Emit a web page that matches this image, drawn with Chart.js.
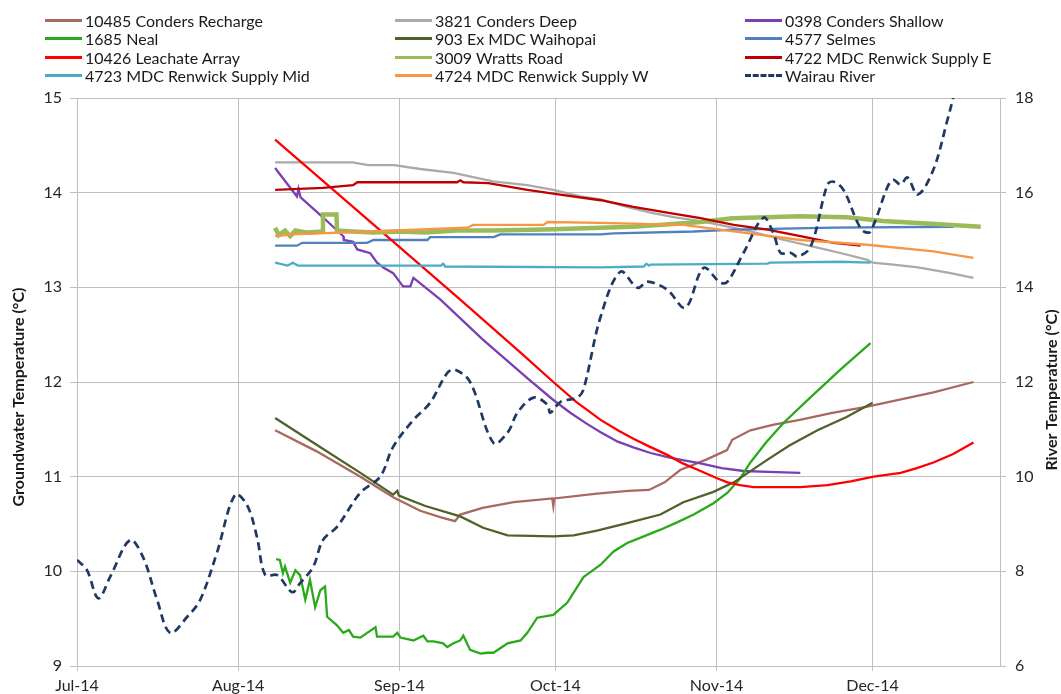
<!DOCTYPE html>
<html>
<head>
<meta charset="utf-8">
<script src="https://cdn.jsdelivr.net/npm/chart.js@4.4.1/dist/chart.umd.min.js"></script>
<style>
html,body{margin:0;padding:0;background:#fff;}
#wrap{position:relative;width:1061px;height:694px;overflow:hidden;}
#chart{position:absolute;left:0;top:0;}
#legend{position:absolute;left:0;top:0;width:1061px;height:92px;font-family:Lato,"Liberation Sans",sans-serif;font-size:16px;color:#1a1a1a;}
.item{position:absolute;height:18px;display:flex;align-items:center;white-space:nowrap;}
.sw{width:37px;height:0;margin-right:3px;}
</style>
</head>
<body>
<div id="wrap">
<canvas id="chart" width="1061" height="694"></canvas>
<div id="legend"></div>
</div>
<script>
// ---- axis ticks / labels ----
const monthTickDays = [0, 31, 62, 92, 123, 153];           // days since 1 Jul 2014
const monthTickLabels = ['Jul-14', 'Aug-14', 'Sep-14', 'Oct-14', 'Nov-14', 'Dec-14'];
const leftTicks = [9, 10, 11, 12, 13, 14, 15];
const rightTicks = [6, 8, 10, 12, 14, 16, 18];
const leftTitle = 'Groundwater Temperature (°C)';
const rightTitle = 'River Temperature (°C)';

// ---- series names & colours (legend order) ----
const seriesNames = [
  '10485 Conders Recharge', '3821 Conders Deep', '0398 Conders Shallow',
  '1685 Neal', '903 Ex MDC Waihopai', '4577 Selmes',
  '10426 Leachate Array', '3009 Wratts Road', '4722 MDC Renwick Supply E',
  '4723 MDC Renwick Supply Mid', '4724 MDC Renwick Supply W', 'Wairau River'
];
const seriesColors = [
  '#A8695F', '#AAAAAA', '#7A3FB3',
  '#2AAA1A', '#4F6228', '#4F81BD',
  '#FF0000', '#9BBB59', '#C00000',
  '#4BACC6', '#F79646', '#1F3864'
];

// ---- series data: [day since 1 Jul 2014, temperature] ----
const condersRecharge = [[38.1,11.49],[46,11.27],[54.5,11.0],[60.9,10.78],[66,10.64],[70,10.57],[72.7,10.53],[73.7,10.6],[78,10.67],[84,10.73],[91.4,10.77],[91.6,10.69],[91.8,10.77],[100,10.82],[106,10.85],[110,10.86],[113,10.94],[116,11.07],[121,11.18],[125,11.28],[126,11.39],[129.5,11.49],[134,11.55],[139,11.60],[145,11.67],[152,11.74],[158,11.81],[164.7,11.89],[172.4,12.0]];
const condersDeep = [[38.1,14.32],[53,14.32],[56,14.29],[61,14.29],[66,14.25],[72.4,14.21],[80,14.12],[86.6,14.08],[91.6,14.03],[96.8,13.96],[100.7,13.93],[105,13.86],[110.3,13.79],[115,13.74],[120,13.70],[124.5,13.65],[129.5,13.59],[136,13.50],[142.4,13.42],[147,13.36],[152,13.29],[153,13.26],[157,13.24],[161.7,13.21],[165,13.18],[168,13.15],[172.4,13.10]];
const condersShallow = [[38.1,14.26],[42.3,13.96],[42.6,14.04],[43,13.95],[47.3,13.74],[51.2,13.54],[51.3,13.50],[53.1,13.48],[53.9,13.40],[56.4,13.36],[57.7,13.26],[58.9,13.21],[60.8,13.15],[62.7,13.01],[64.1,13.01],[64.7,13.10],[69.9,12.87],[78,12.45],[86.6,12.04],[91.6,11.81],[95,11.67],[98,11.56],[100.7,11.47],[104,11.37],[107,11.31],[110.3,11.25],[114,11.20],[117,11.17],[119.9,11.14],[124,11.09],[128.2,11.06],[133,11.05],[139.1,11.04]];
const neal = [[38.3,10.13],[39.0,10.12],[39.6,9.98],[40.0,10.05],[41.0,9.88],[42.0,10.01],[42.9,9.96],[43.9,9.70],[44.8,9.91],[45.8,9.62],[46.8,9.80],[47.7,9.84],[48.1,9.52],[50.0,9.43],[51.2,9.35],[52.3,9.38],[53.1,9.31],[54.5,9.30],[55.8,9.35],[57.4,9.41],[57.7,9.31],[60.8,9.31],[61.6,9.35],[62.2,9.30],[64.7,9.27],[66.6,9.32],[67.4,9.26],[68.6,9.26],[70.4,9.24],[71.2,9.20],[72.4,9.24],[73.7,9.27],[74.3,9.32],[75.6,9.17],[77.6,9.13],[78.9,9.14],[80.1,9.14],[82.8,9.24],[85.3,9.27],[86.6,9.35],[88.5,9.51],[91.6,9.54],[94.3,9.67],[97.4,9.94],[100.7,10.07],[103.2,10.21],[105.8,10.30],[109,10.37],[112.2,10.44],[115.5,10.52],[118.6,10.60],[122.4,10.72],[125.1,10.83],[127.5,10.98],[129.5,11.15],[132.5,11.36],[135.9,11.57],[141.1,11.84],[146.8,12.13],[152.6,12.41]];
const exWaihopai = [[38.1,11.62],[46,11.34],[54.5,11.04],[60.8,10.81],[61.6,10.85],[61.9,10.80],[67,10.69],[73.7,10.58],[78.1,10.46],[82.8,10.38],[91.6,10.37],[95.5,10.38],[100,10.43],[105.8,10.51],[112.2,10.60],[116.6,10.73],[122.4,10.84],[126.3,10.94],[132.8,11.18],[137,11.33],[142.4,11.49],[148,11.63],[153.0,11.78]];
const selmes = [[38.1,13.44],[42.3,13.44],[43.3,13.47],[55.8,13.47],[57.0,13.50],[67.4,13.50],[67.9,13.53],[80.1,13.53],[81.4,13.56],[100.7,13.56],[103.2,13.57],[118.6,13.59],[126.3,13.61],[145.5,13.63],[168.6,13.64]];
const leachate = [[38.1,14.56],[57.7,13.63],[73.7,12.87],[85.3,12.31],[91.6,12.0],[96,11.79],[100.7,11.60],[104,11.49],[107.0,11.40],[110,11.32],[113.5,11.23],[116.5,11.14],[119.9,11.06],[123.2,10.98],[125.1,10.94],[127.5,10.91],[130.1,10.89],[139.1,10.89],[144.3,10.91],[148.8,10.95],[153.2,11.0],[158.4,11.04],[161.5,11.09],[164.7,11.15],[168.5,11.24],[172.4,11.36]];
const wrattsRoad = [[38.1,13.63],[38.8,13.55],[40,13.60],[41,13.54],[42,13.60],[44,13.58],[47.2,13.59],[47.3,13.77],[49.9,13.77],[50.0,13.60],[53,13.59],[57,13.58],[62,13.59],[67,13.58],[73,13.60],[80,13.60],[90,13.61],[100.7,13.63],[107,13.64],[120,13.69],[126,13.73],[139,13.75],[148,13.74],[155,13.70],[165,13.67],[173.8,13.64]];
const renwickE = [[38.1,14.03],[47.3,14.05],[53.1,14.08],[53.9,14.11],[73.1,14.11],[73.7,14.13],[74.3,14.11],[79.1,14.10],[86.6,14.03],[92.9,13.98],[100.7,13.92],[107.0,13.85],[113.5,13.79],[119.9,13.73],[126.3,13.66],[132.8,13.61],[139.1,13.54],[145.5,13.47],[150.7,13.44]];
const renwickMid = [[38.1,13.26],[40.5,13.23],[41.5,13.26],[42.5,13.23],[70,13.23],[70.4,13.25],[70.8,13.22],[100.7,13.21],[109,13.22],[109.5,13.25],[110,13.23],[110.3,13.24],[132.8,13.25],[133.3,13.26],[146.8,13.27],[152.6,13.26]];
const renwickW = [[38.1,13.54],[41.5,13.56],[56.2,13.59],[75.0,13.63],[76.2,13.66],[89.7,13.66],[90.5,13.69],[100.7,13.68],[116.6,13.66],[126.3,13.59],[139.1,13.50],[152.0,13.45],[164.7,13.38],[172.4,13.31]];
const wairauRiver = [[0,8.24],[1.9,8.03],[4.1,7.43],[6.4,7.89],[10.2,8.66],[12.7,8.30],[15.4,7.40],[17.9,6.70],[21.2,7.04],[23.7,7.40],[26.9,8.39],[30.4,9.62],[32.7,9.40],[34.6,8.73],[36.2,7.92],[38.5,7.92],[41.4,7.56],[42.9,7.75],[45.4,8.09],[47.3,8.66],[50.0,8.94],[54.5,9.66],[58.3,10.0],[60.8,10.63],[64.7,11.20],[67.9,11.56],[71.2,12.19],[72.7,12.26],[75.6,12.0],[80.1,10.71],[82.8,10.93],[84.7,11.35],[87.8,11.67],[90.5,11.52],[91.0,11.35],[93.0,11.58],[96.2,11.67],[97.4,11.84],[100.7,13.38],[104.5,14.33],[107.8,13.99],[109.7,14.12],[113.5,13.95],[117.0,13.57],[120.5,14.41],[123.7,14.10],[125.1,14.12],[128.2,14.73],[132.0,15.47],[133.9,15.15],[135.3,14.73],[137.2,14.73],[138.6,14.65],[141.1,14.86],[144.3,16.17],[145.5,16.23],[147.4,16.06],[150.1,15.37],[151.3,15.18],[152.6,15.18],[155.9,16.13],[157.0,16.27],[158.4,16.17],[159.7,16.32],[161.7,15.96],[164.7,16.49],[167.4,17.54],[168.4,17.97],[169.2,18.4]];

const seriesData = [condersRecharge, condersDeep, condersShallow, neal, exWaihopai, selmes,
  leachate, wrattsRoad, renwickE, renwickMid, renwickW, wairauRiver];

const FONT = 'Lato';

// ---- HTML legend (3 columns x 4 rows) ----
const legendEl = document.getElementById('legend');
const legendColX = [45, 395, 745];
const legendRowY = [11, 29.5, 48, 66.5];
seriesNames.forEach((name, i) => {
  const div = document.createElement('div');
  div.className = 'item';
  div.style.left = legendColX[i % 3] + 'px';
  div.style.top = legendRowY[Math.floor(i / 3)] + 'px';
  const sw = document.createElement('span');
  sw.className = 'sw';
  const dashed = i === seriesNames.length - 1;
  sw.style.borderTop = '3px ' + (dashed ? 'dashed ' : 'solid ') + seriesColors[i];
  const tx = document.createElement('span');
  tx.textContent = name;
  div.appendChild(sw); div.appendChild(tx);
  legendEl.appendChild(div);
});

// ---- datasets ----
const datasets = seriesData.map((arr, i) => {
  const river = i === seriesData.length - 1;
  return {
    label: seriesNames[i],
    data: arr.map(p => ({x: p[0], y: p[1]})),
    borderColor: seriesColors[i],
    backgroundColor: seriesColors[i],
    borderWidth: river ? 2.7 : (i === 7 ? 4.5 : 2.3),
    borderDash: river ? [8, 5] : [],
    tension: river ? 0.35 : 0,
    pointRadius: 0,
    fill: false,
    yAxisID: river ? 'y1' : 'y',
    order: seriesData.length - i
  };
});

// axis titles (both read bottom-to-top, as in the original)
const axisTitlesPlugin = {
  id: 'axisTitles',
  afterDraw(chart) {
    const ctx = chart.ctx;
    const draw = (text, x, y) => {
      ctx.save();
      ctx.translate(x, y);
      ctx.rotate(-Math.PI / 2);
      ctx.font = 'bold 16px ' + FONT;
      ctx.fillStyle = '#1a1a1a';
      ctx.textAlign = 'center';
      ctx.textBaseline = 'middle';
      ctx.fillText(text, 0, 0);
      ctx.restore();
    };
    draw(leftTitle, 19, 397);
    draw(rightTitle, 1052, 390);
  }
};

const tickFont = {family: FONT, size: 16};
const gridColor = '#BFBFBF';

new Chart(document.getElementById('chart'), {
  type: 'line',
  data: {datasets},
  plugins: [axisTitlesPlugin],
  options: {
    responsive: false,
    animation: false,
    devicePixelRatio: 1,
    layout: {padding: {top: 98, left: 0, right: 0, bottom: 0}},
    plugins: {legend: {display: false}, tooltip: {enabled: false}},
    scales: {
      x: {
        type: 'linear', min: 0, max: 177.5,
        afterBuildTicks: s => { s.ticks = monthTickDays.map(v => ({value: v})); },
        afterFit: s => { s.height = 28; },
        ticks: {
          callback: v => { const k = monthTickDays.indexOf(v); return k >= 0 ? monthTickLabels[k] : ''; },
          font: tickFont, color: '#262626', maxRotation: 0, autoSkip: false, padding: 5
        },
        grid: {color: gridColor, tickLength: 5},
        border: {color: gridColor}
      },
      y: {
        position: 'left', min: 9, max: 15,
        afterBuildTicks: s => { s.ticks = leftTicks.map(v => ({value: v})); },
        afterFit: s => { s.width = 77; },
        ticks: {font: tickFont, color: '#262626', padding: 8},
        grid: {color: gridColor, tickLength: 7},
        border: {color: gridColor}
      },
      y1: {
        position: 'right', min: 6, max: 18,
        afterBuildTicks: s => { s.ticks = rightTicks.map(v => ({value: v})); },
        afterFit: s => { s.width = 61; },
        ticks: {font: tickFont, color: '#262626', padding: 9},
        grid: {drawOnChartArea: false, color: gridColor, tickLength: 6},
        border: {color: gridColor}
      }
    }
  }
});
</script>
</body>
</html>
